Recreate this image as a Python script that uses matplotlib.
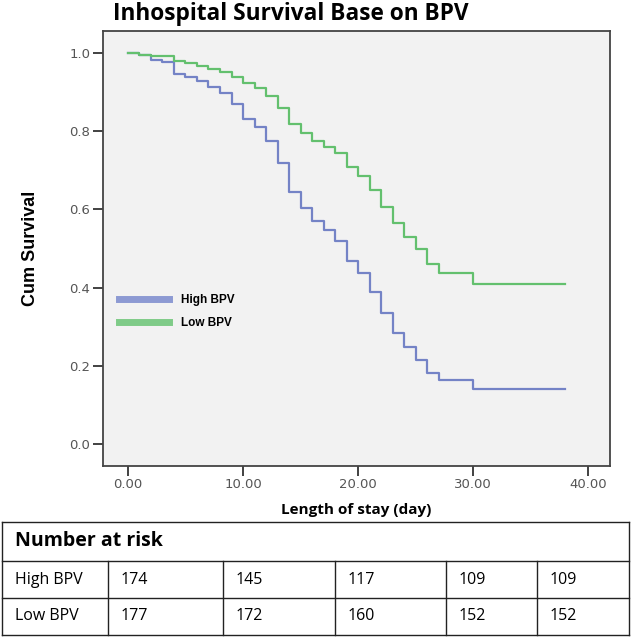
import matplotlib.pyplot as plt
from matplotlib.lines import Line2D

# data (step points, day -> cumulative survival)
days_high = [0, 1, 2, 3, 4, 5, 6, 7, 8, 9, 10, 11, 12, 13, 14, 15, 16, 17, 18, 19,
             20, 21, 22, 23, 24, 25, 26, 27, 30, 38]
surv_high = [1.0, 0.995, 0.982, 0.977, 0.947, 0.938, 0.928, 0.914, 0.897, 0.870,
             0.830, 0.810, 0.775, 0.718, 0.644, 0.603, 0.570, 0.547, 0.519, 0.468,
             0.437, 0.390, 0.334, 0.283, 0.249, 0.215, 0.183, 0.164, 0.140, 0.140]

days_low = [0, 1, 2, 4, 5, 6, 7, 8, 9, 10, 11, 12, 13, 14, 15, 16, 17, 18, 19,
            20, 21, 22, 23, 24, 25, 26, 27, 30, 38]
surv_low = [1.0, 0.995, 0.991, 0.980, 0.974, 0.967, 0.959, 0.951, 0.939, 0.922,
            0.910, 0.890, 0.860, 0.818, 0.795, 0.775, 0.760, 0.743, 0.708,
            0.686, 0.650, 0.607, 0.564, 0.530, 0.498, 0.460, 0.437, 0.408, 0.408]

x_ticks = [0, 10, 20, 30, 40]
y_ticks = [0.0, 0.2, 0.4, 0.6, 0.8, 1.0]

groups = ['High BPV', 'Low BPV']
risk_high = [174, 145, 117, 109, 109]
risk_low = [177, 172, 160, 152, 152]

c_high = '#7483C6'
c_low = '#63C06E'

fig = plt.figure(figsize=(6.32, 6.37), dpi=100)
W, H = 632, 637

ax = fig.add_axes([103 / W, 1 - 466 / H, 507 / W, 435 / H])
ax.set_facecolor('#F2F2F2')

ax.step(days_high, surv_high, where='post', color=c_high, lw=1.6)
ax.step(days_low, surv_low, where='post', color=c_low, lw=1.6)

ax.set_xlim(-2.17, 41.9)
ax.set_ylim(-0.056, 1.056)
ax.set_xticks(x_ticks)
ax.set_xticklabels(['%.2f' % v for v in x_ticks])
ax.set_yticks(y_ticks)
ax.set_yticklabels(['%.1f' % v for v in y_ticks])
ax.tick_params(direction='out', length=7, width=1.3, color='#333333',
               labelsize=9.5, labelcolor='#555555', pad=2)
ax.tick_params(top=False, right=False)
for s in ax.spines.values():
    s.set_color('#444444')
    s.set_linewidth(1.3)

ax.set_xlabel('Length of stay (day)', fontsize=11, fontweight='bold',
              family='Open Sans', labelpad=8)
ax.set_ylabel('Cum Survival', fontsize=13, fontweight='bold',
              family='Liberation Sans', labelpad=22)

handles = [Line2D([], [], color='#8D9AD3', lw=5),
           Line2D([], [], color='#7FCB88', lw=5)]
ax.legend(handles, groups, loc='upper left', bbox_to_anchor=(0.01, 0.42),
          frameon=False, handlelength=4.3, handletextpad=1.0, labelspacing=0.95,
          prop={'family': 'Liberation Sans', 'weight': 'bold', 'size': 8.5})

fig.text(113 / W, 1 - 20 / H, 'Inhospital Survival Base on BPV', fontsize=16.3,
         fontweight='bold', family='Open Sans', ha='left', va='baseline')

# number at risk table
tab = fig.add_axes([0, 0, 1, 1], zorder=-1)
tab.set_xlim(0, W)
tab.set_ylim(H, 0)
tab.axis('off')
col_x = [2, 108, 223, 335, 446, 537, 629]
row_y = [522, 561, 598, 635]
lc = '#222222'
for y in row_y:
    tab.plot([col_x[0], col_x[-1]], [y, y], color=lc, lw=1)
for x in (col_x[0], col_x[-1]):
    tab.plot([x, x], [row_y[0], row_y[-1]], color=lc, lw=1)
for x in col_x[1:-1]:
    tab.plot([x, x], [row_y[1], row_y[-1]], color=lc, lw=1)

tab.text(col_x[0] + 13, (row_y[0] + row_y[1]) / 2, 'Number at risk', fontsize=14,
         fontweight='bold', family='Open Sans', va='center', ha='left')
for r, (name, vals) in enumerate(zip(groups, [risk_high, risk_low])):
    yc = (row_y[r + 1] + row_y[r + 2]) / 2
    tab.text(col_x[0] + 13, yc, name, fontsize=11.5, family='Open Sans',
             va='center', ha='left')
    for c, v in enumerate(vals):
        tab.text(col_x[c + 1] + 13, yc, str(v), fontsize=11.5, family='Open Sans',
                 va='center', ha='left')

fig.savefig('out.png', dpi=100)
